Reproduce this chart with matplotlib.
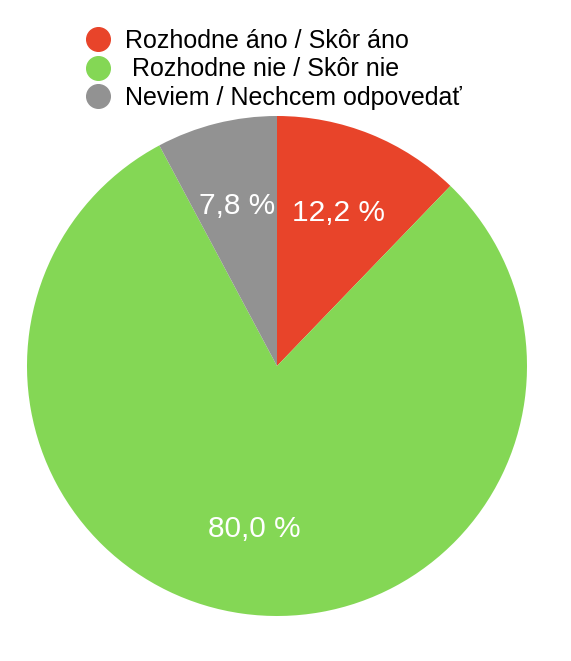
import matplotlib.pyplot as plt
from matplotlib.lines import Line2D

labels = ['Rozhodne áno / Skôr áno', ' Rozhodne nie / Skôr nie', 'Neviem / Nechcem odpovedať']
values = [12.2, 80.0, 7.8]
colors = ['#E8442A', '#84D755', '#929292']

plt.rcParams['font.family'] = ['Liberation Sans', 'DejaVu Sans']

fig = plt.figure(figsize=(5.71, 6.61), dpi=100)
ax = fig.add_axes([27 / 571, 45 / 661, 500 / 571, 500 / 661])

ax.pie(values, colors=colors, startangle=90, counterclock=False,
       autopct=lambda p: f'{p:.1f} %'.replace('.', ','), pctdistance=0.66,
       textprops={'color': 'white', 'fontsize': 21.5})
ax.set_xlim(-1, 1)
ax.set_ylim(-1, 1)
ax.set_aspect('equal')

# legend with round markers
handles = [Line2D([], [], ls='', marker='o', ms=17, mfc=c, mec=c) for c in colors]
fig.legend(handles, labels, loc='upper left', bbox_to_anchor=(82 / 571, 1 - 29 / 661),
           frameon=False, fontsize=18, handletextpad=0.42, labelspacing=0.18,
           borderaxespad=0, borderpad=0, handlelength=1.3)

fig.savefig('out.png', dpi=100)
